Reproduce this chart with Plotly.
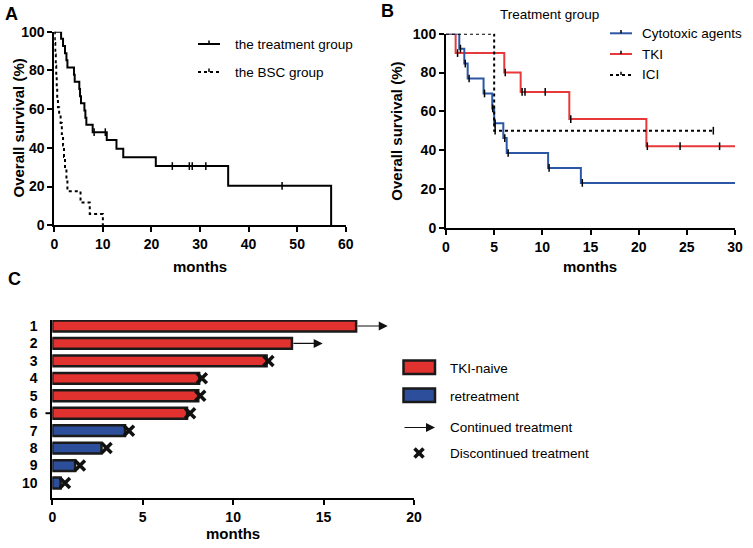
import plotly.graph_objects as go

W, H = 753, 548
def px(x):
    return x / W
def py(y):
    return 1 - y / H

# ---------------- Panel A data ----------------
tx_times = [0, 1.4, 1.8, 2.2, 2.5, 2.7, 4.05, 4.2, 5.15, 5.3, 5.5, 6.2, 6.4, 6.6, 7.9, 10.8, 12.8, 14.2, 20.9, 35.8, 57.0]
tx_surv = [100, 96.3, 92.6, 88.9, 85.2, 81.5, 77.8, 74.1, 70.4, 66.7, 63.0, 59.3, 55.6, 51.9, 48.1, 44.1, 39.6, 35.2, 30.6, 20.4, 0]
tx_cens_t = [8.2, 10.5, 24.3, 27.8, 28.4, 31.2, 46.9]
tx_cens_s = [48.1, 48.1, 30.6, 30.6, 30.6, 30.6, 20.4]

bsc_times = [0, 0.1, 0.2, 0.3, 0.4, 0.5, 0.6, 0.75, 1.0, 1.3, 1.55, 1.8, 2.0, 2.2, 2.5, 2.7, 5.4, 7.3, 10.0]
bsc_surv = [100, 94.1, 88.2, 82.4, 76.5, 70.6, 64.7, 61.0, 57.0, 52.9, 47.1, 41.2, 35.3, 29.4, 23.5, 17.6, 11.8, 5.9, 0]

# ---------------- Panel B data ----------------
cyto_times = [0, 1.38, 1.9, 2.25, 3.9, 4.8, 5.0, 5.95, 6.3, 10.6, 14.0, 30]
cyto_surv = [100, 92.3, 84.6, 76.9, 69.2, 61.5, 53.8, 46.2, 38.5, 30.8, 23.1, 23.1]
cyto_cens_t = [1.5, 2.0, 2.4, 4.0, 4.85, 5.1, 6.1, 6.45, 10.7, 14.15]
cyto_cens_s = [92.3, 84.6, 76.9, 69.2, 61.5, 53.8, 46.2, 38.5, 30.8, 23.1]

tki_times = [0, 1.0, 6.05, 7.75, 12.8, 20.8, 30]
tki_surv = [100, 90, 80, 70, 56, 42, 42]
tki_cens_t = [1.2, 6.15, 7.9, 8.2, 10.3, 12.95, 20.9, 24.3, 28.4]
tki_cens_s = [90, 80, 70, 70, 70, 56, 42, 42, 42]

ici_times = [0, 5.0, 27.75]
ici_surv = [100, 50, 50]
ici_cens_t = [5.1, 27.75]
ici_cens_s = [50, 50]

# ---------------- Panel C data ----------------
patients = [1, 2, 3, 4, 5, 6, 7, 8, 9, 10]
patient_labels = [str(p) for p in patients]
duration = [16.8, 13.25, 11.85, 8.12, 8.07, 7.45, 4.02, 2.72, 1.26, 0.46]
group = ["TKI-naive"] * 6 + ["retreatment"] * 4
cont_patients = [1, 2]
cont_tip = [18.55, 14.95]
disc_patients = [3, 4, 5, 6, 7, 8, 9, 10]
disc_x = [11.95, 8.27, 8.18, 7.62, 4.24, 3.0, 1.53, 0.7]

RED = "#e2322f"
BLUE = "#2d4f9b"
LRED = "#e8393a"
LBLUE = "#2c57a5"
FONT = "Liberation Sans"

fig = go.Figure()

def km(x, y, color, dash, xa, ya, width=2):
    fig.add_trace(go.Scatter(x=x, y=y, mode="lines", line=dict(color=color, width=width, dash=dash, shape="hv"),
                             xaxis=xa, yaxis=ya, showlegend=False, cliponaxis=False, hoverinfo="skip"))

def cens(x, y, xa, ya, color="black"):
    fig.add_trace(go.Scatter(x=x, y=y, mode="markers",
                             marker=dict(symbol="line-ns", size=5.5, line=dict(color=color, width=1.5)),
                             xaxis=xa, yaxis=ya, showlegend=False, cliponaxis=False, hoverinfo="skip"))

# Panel A
km(tx_times, tx_surv, "black", "solid", "x", "y")
cens(tx_cens_t, tx_cens_s, "x", "y")
km(bsc_times, bsc_surv, "black", "dot", "x", "y")

# Panel B
km(tki_times, tki_surv, LRED, "solid", "x2", "y2")
cens(tki_cens_t, tki_cens_s, "x2", "y2")
km(cyto_times, cyto_surv, LBLUE, "solid", "x2", "y2")
cens(cyto_cens_t, cyto_cens_s, "x2", "y2")
km(ici_times, ici_surv, "black", "dot", "x2", "y2")
cens(ici_cens_t, ici_cens_s, "x2", "y2")

# Panel C
fig.add_trace(go.Bar(x=duration, y=patients, orientation="h", width=0.62,
                     marker=dict(color=[RED if g == "TKI-naive" else BLUE for g in group],
                                 line=dict(color="#1a1a1a", width=2.5)),
                     xaxis="x3", yaxis="y3", showlegend=False, hoverinfo="skip"))
fig.add_trace(go.Scatter(x=disc_x, y=disc_patients, mode="markers",
                         marker=dict(symbol="x-thin", size=10, line=dict(color="#111", width=3.5)),
                         xaxis="x3", yaxis="y3", showlegend=False, cliponaxis=False, hoverinfo="skip"))

annotations = []
for p, tip in zip(cont_patients, cont_tip):
    annotations.append(dict(x=tip, y=p, ax=duration[p - 1], ay=p, xref="x3", yref="y3", axref="x3", ayref="y3",
                            text="", showarrow=True, arrowhead=2, arrowsize=1.5, arrowwidth=1.2, arrowcolor="#111"))

tickfont = dict(family=FONT, size=14, color="black", weight="bold")
base_axis = dict(showline=True, linecolor="black", linewidth=2, ticks="outside", ticklen=5, tickwidth=2,
                 tickcolor="black", showgrid=False, zeroline=False, tickfont=tickfont, fixedrange=True,
                 automargin=False)

def ax(**kw):
    d = dict(base_axis)
    d.update(kw)
    return d

layout = dict(
    width=W, height=H, margin=dict(l=0, r=0, t=0, b=0), paper_bgcolor="white", plot_bgcolor="white",
    showlegend=False,
    xaxis=ax(domain=[px(54.3), px(345.7)], range=[0, 60], tickvals=[0, 10, 20, 30, 40, 50, 60], anchor="y"),
    yaxis=ax(domain=[py(225.3), py(31.7)], range=[0, 100], tickvals=[0, 20, 40, 60, 80, 100], anchor="x"),
    xaxis2=ax(domain=[px(446), px(735)], range=[0, 30], tickvals=[0, 5, 10, 15, 20, 25, 30], anchor="y2"),
    yaxis2=ax(domain=[py(227.7), py(33.7)], range=[0, 100], tickvals=[0, 20, 40, 60, 80, 100], anchor="x2"),
    xaxis3=ax(domain=[px(52.3), px(414)], range=[0, 20], tickvals=[0, 5, 10, 15, 20], anchor="y3"),
    yaxis3=ax(domain=[py(498), py(320)], range=[10.86, 0.656], tickvals=patients, ticktext=patient_labels,
              ticks="", ticklabelstandoff=10, anchor="x3"),
)

def txt(x, y, s, size=14, bold=False, xanchor="center", angle=0):
    annotations.append(dict(x=px(x), y=py(y), xref="paper", yref="paper", text=s, showarrow=False,
                            xanchor=xanchor, yanchor="middle", textangle=angle,
                            font=dict(family=FONT, size=size, color="black", weight="bold" if bold else "normal")))

# panel letters
txt(11, 14, "A", 18, True)
txt(387, 11, "B", 18, True)
txt(14, 279, "C", 18, True)
# axis titles
txt(200, 266, "months", 15, True)
txt(590, 266, "months", 15, True)
txt(233, 533, "months", 15, True)
txt(18.5, 128, "Overall survival (%)", 15, True, angle=-90)
txt(397, 131.7, "Overall survival (%)", 15, True, angle=-90)
txt(549, 14, "Treatment group", 13.5)

# legends A
txt(233, 44, "the treatment group", 13.5, xanchor="left")
txt(233, 72, "the BSC group", 13.5, xanchor="left")
# legends B
txt(640, 33.3, "Cytotoxic agents", 13.5, xanchor="left")
txt(640, 54, "TKI", 13.5, xanchor="left")
txt(640, 75, "ICI", 13.5, xanchor="left")
# legends C
txt(448, 368, "TKI-naive", 13.5, xanchor="left")
txt(448, 396, "retreatment", 13.5, xanchor="left")
txt(448, 427.5, "Continued treatment", 13.5, xanchor="left")
txt(448, 453, "Discontinued treatment", 13.5, xanchor="left")

# arrow legend
annotations.append(dict(x=px(435), y=py(427.5), xref="paper", yref="paper", ax=-32, ay=0, text="",
                        showarrow=True, arrowhead=2, arrowsize=1.5, arrowwidth=1.2, arrowcolor="#111"))

shapes = []
def pline(x0, y0, x1, y1, color="black", width=2, dash="solid"):
    shapes.append(dict(type="line", xref="paper", yref="paper", x0=px(x0), y0=py(y0), x1=px(x1), y1=py(y1),
                       line=dict(color=color, width=width, dash=dash)))

# legend A samples
pline(198, 44, 220, 44)
pline(209, 40.5, 209, 44, width=1.5)
pline(198, 72, 220, 72, dash="dot")
pline(209, 68.5, 209, 72, width=1.5)
# legend B samples
pline(610, 33.3, 632, 33.3, color=LBLUE)
pline(621, 30, 621, 33.3, width=1.5)
pline(610, 54, 632, 54, color=LRED)
pline(621, 50.7, 621, 54, width=1.5)
pline(610, 75, 632, 75, dash="dot")
pline(621, 71.7, 621, 75, width=1.5)
# legend C boxes
shapes.append(dict(type="rect", xref="paper", yref="paper", x0=px(403.5), x1=px(435), y0=py(374), y1=py(360.5),
                   fillcolor=RED, line=dict(color="#1a1a1a", width=2.5)))
shapes.append(dict(type="rect", xref="paper", yref="paper", x0=px(403.5), x1=px(435), y0=py(402), y1=py(388.5),
                   fillcolor=BLUE, line=dict(color="#1a1a1a", width=2.5)))
pline(414.5, 448.5, 423.5, 457.5, color="#111", width=3.5)
pline(414.5, 457.5, 423.5, 448.5, color="#111", width=3.5)
# stray tick at patient 6
shapes.append(dict(type="line", xref="paper", yref="y3", x0=px(45.5), x1=px(50.5), y0=6, y1=6,
                   line=dict(color="black", width=2)))

layout["annotations"] = annotations
layout["shapes"] = shapes
fig.update_layout(**layout)
fig.write_html("out.html", config={"displayModeBar": False},
               post_script="document.body.style.margin='0px';document.body.style.overflow='hidden';")
